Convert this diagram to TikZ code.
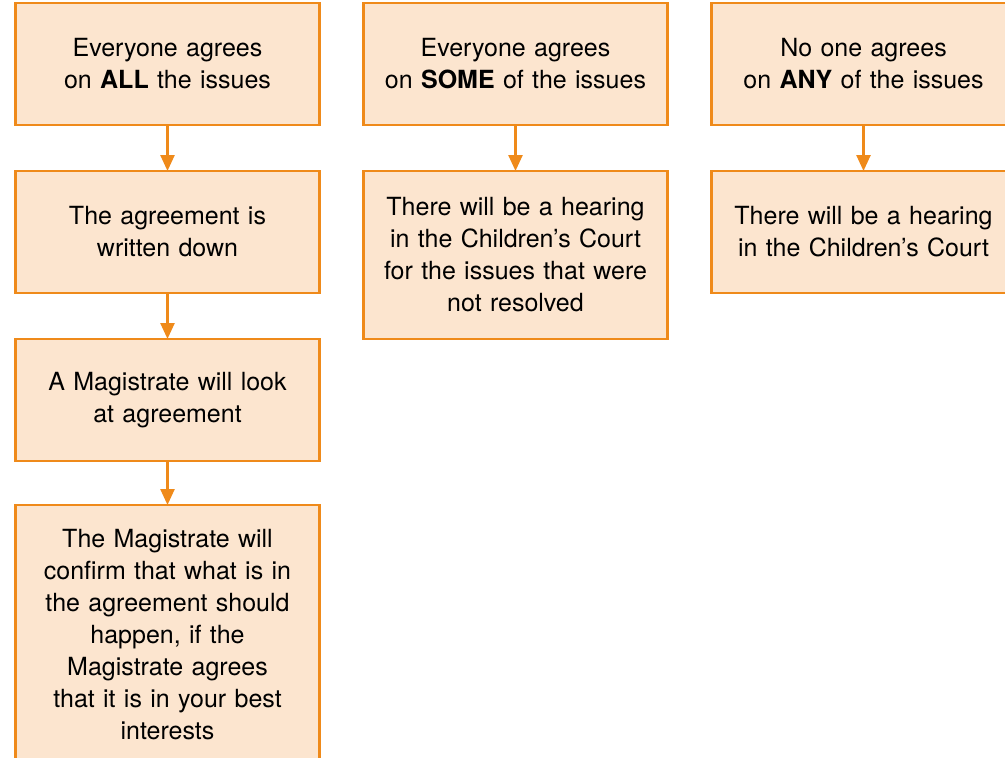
\documentclass[tikz,border=0pt]{standalone}
\usepackage{fontspec}
\setmainfont{TeX Gyre Heros}
\usetikzlibrary{positioning, arrows.meta}
\definecolor{boxfill}{HTML}{FCE5CF}
\definecolor{boxline}{HTML}{EF8A1A}

\begin{document}
\begin{tikzpicture}[
x=1pt, y=1pt,
node distance=46pt and 44pt,
every node/.style={draw=boxline, fill=boxfill, line width=2.5pt, text width=304pt, align=center, minimum height=122pt, inner sep=0pt, outer sep=0pt, font=\fontsize{25}{32}\selectfont},
flow/.style={draw=boxline, line width=2.5pt, -{Triangle[width=14pt,length=16pt]}}
]
\useasboundingbox (0,0) rectangle (1005,-758);
\clip (0,0) rectangle (1005,-758);

% Nodes
\node (allagree) at (167.5,-64) {Everyone agrees\\on \textbf{ALL} the issues};
\node (written) [below=of allagree] {The agreement is\\written down};
\node (lookat) [below=of written] {A Magistrate will look\\at agreement};
\node (confirm) [below=44pt of lookat, minimum height=260pt] {The Magistrate will\\confirm that what is in\\the agreement should\\happen, if the\\Magistrate agrees\\that it is in your best\\interests};

\node (someagree) [right=of allagree] {Everyone agrees\\on \textbf{SOME} of the issues};
\node (hearingsome) [below=of someagree, minimum height=168pt] {There will be a hearing\\in the Children’s Court\\for the issues that were\\not resolved};

\node (anyagree) [right=of someagree] {No one agrees\\on \textbf{ANY} of the issues};
\node (hearingany) [below=of anyagree] {There will be a hearing\\in the Children’s Court};

% Arrows
\draw[flow] (allagree) -- (written);
\draw[flow] (written) -- (lookat);
\draw[flow] (lookat) -- (confirm);
\draw[flow] (someagree) -- (hearingsome);
\draw[flow] (anyagree) -- (hearingany);
\end{tikzpicture}
\end{document}
